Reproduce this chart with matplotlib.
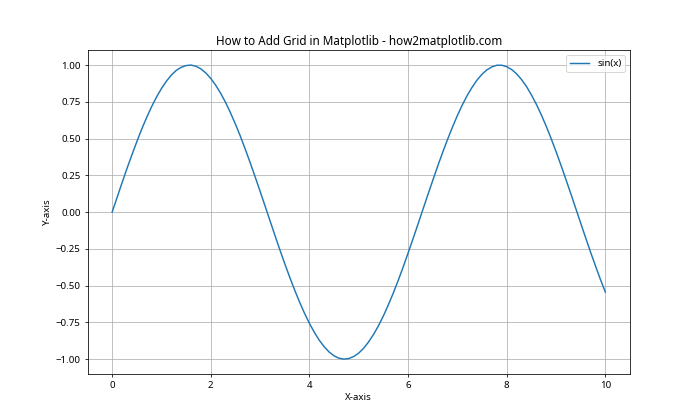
import matplotlib
matplotlib.use('agg')
import matplotlib.pyplot as plt

plt.rcParams['font.family'] = ['Noto Sans', 'DejaVu Sans']

x = [round(0.1 * i, 1) for i in range(101)]
y = [0.000, 0.100, 0.199, 0.296, 0.389, 0.479, 0.565, 0.644, 0.717, 0.783,
     0.841, 0.891, 0.932, 0.964, 0.985, 0.997, 1.000, 0.992, 0.974, 0.946,
     0.909, 0.863, 0.808, 0.746, 0.675, 0.598, 0.516, 0.427, 0.335, 0.239,
     0.141, 0.042, -0.058, -0.158, -0.256, -0.351, -0.443, -0.530, -0.612, -0.688,
     -0.757, -0.818, -0.872, -0.916, -0.952, -0.978, -0.994, -1.000, -0.996, -0.982,
     -0.959, -0.926, -0.883, -0.832, -0.773, -0.706, -0.631, -0.551, -0.465, -0.374,
     -0.279, -0.182, -0.083, 0.017, 0.117, 0.215, 0.312, 0.405, 0.494, 0.578,
     0.657, 0.729, 0.794, 0.850, 0.899, 0.938, 0.968, 0.988, 0.999, 0.999,
     0.989, 0.970, 0.941, 0.902, 0.855, 0.798, 0.734, 0.663, 0.585, 0.501,
     0.412, 0.319, 0.223, 0.125, 0.025, -0.075, -0.174, -0.272, -0.366, -0.458,
     -0.544]

fig, ax = plt.subplots(figsize=(10, 6), dpi=70)
ax.plot(x, y, label='sin(x)')
ax.set_title('How to Add Grid in Matplotlib - how2matplotlib.com')
ax.set_xlabel('X-axis')
ax.set_ylabel('Y-axis')
ax.legend()
ax.grid(True)

fig.savefig('out.png')
